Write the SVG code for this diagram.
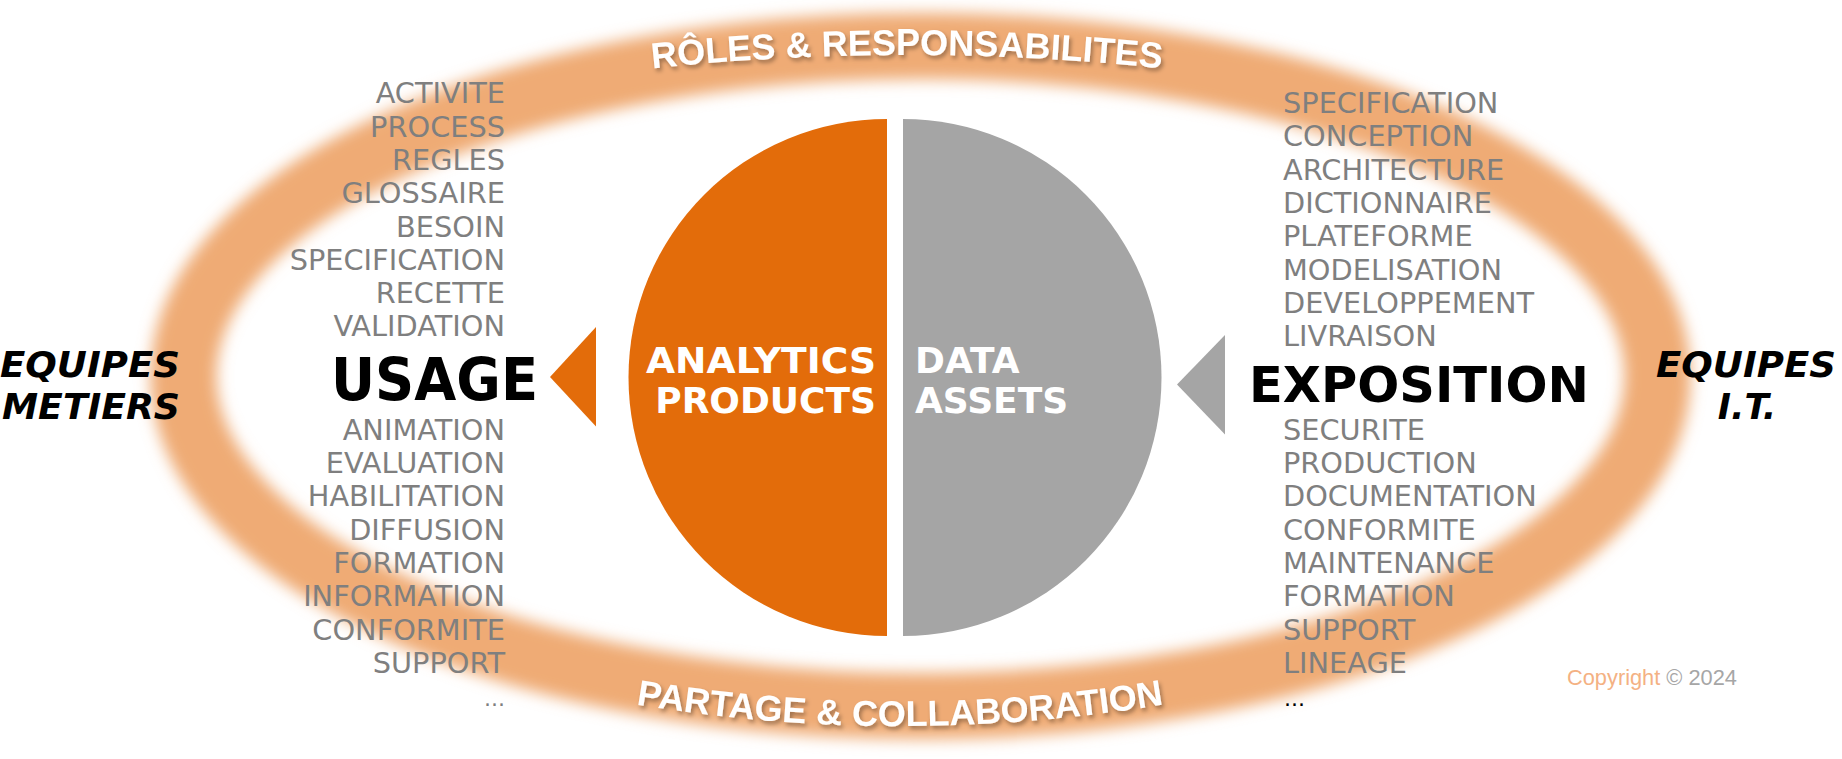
<svg xmlns="http://www.w3.org/2000/svg" width="1842" height="759" viewBox="0 0 1842 759">
  <defs>
    <filter id="soft" x="-5%" y="-12%" width="110%" height="124%">
      <feGaussianBlur stdDeviation="7.5"/>
    </filter>
    <filter id="shadow" x="-10%" y="-30%" width="120%" height="160%">
      <feDropShadow dx="2" dy="3" stdDeviation="2" flood-color="#000" flood-opacity="0.35"/>
    </filter>
    <path id="topArc" d="M 507 88.4 A 2410 2410 0 0 1 1307 88.4"/>
    <path id="botArc" d="M 500 675.9 A 1620 1620 0 0 0 1300 675.9"/>
    <style>
      .lst { font-family: "DejaVu Sans", Verdana, sans-serif; font-size: 28.8px; fill: #7F7F7F; }
      .big { font-family: "DejaVu Sans", Verdana, sans-serif; font-weight: bold; fill: #000; }
      .team { font-family: "DejaVu Sans", Verdana, sans-serif; font-weight: bold; font-style: italic; font-size: 35.5px; fill: #000; text-anchor: middle; }
      .inner { font-family: "DejaVu Sans", Verdana, sans-serif; font-weight: bold; font-size: 36px; fill: #FFFFFF; }
      .ring { font-family: "Liberation Sans", Arial, sans-serif; font-weight: bold; font-size: 36px; fill: #FFFFFF; }
      .r { text-anchor: end; }
    </style>
  </defs>
  <rect width="1842" height="759" fill="#FFFFFF"/>

  <g id="ring">
    <ellipse cx="920.5" cy="376" rx="737" ry="330" fill="none" stroke="#EFAB74" stroke-width="66" filter="url(#soft)"/>
  </g>

  <g id="ring-labels" filter="url(#shadow)">
    <text class="ring"><textPath href="#topArc" startOffset="50%" text-anchor="middle">RÔLES &amp; RESPONSABILITES</textPath></text>
    <text class="ring"><textPath href="#botArc" startOffset="50%" text-anchor="middle">PARTAGE &amp; COLLABORATION</textPath></text>
  </g>

  <g id="analytics-products">
    <path d="M 887 119 A 258.5 258.5 0 0 0 887 636 Z" fill="#E36C0A"/>
    <text class="inner r" x="876" y="373.3" textLength="230" lengthAdjust="spacingAndGlyphs">ANALYTICS</text>
    <text class="inner r" x="876" y="412.7">PRODUCTS</text>
  </g>

  <g id="data-assets">
    <path d="M 903 119 A 258.5 258.5 0 0 1 903 636 Z" fill="#A5A5A5"/>
    <text class="inner" x="915" y="373.3">DATA</text>
    <text class="inner" x="915" y="412.7">ASSETS</text>
  </g>

  <g id="connectors">
    <polygon points="596,327 596,426.5 550,377" fill="#E36C0A"/>
    <polygon points="1225,335 1225,434.5 1177,384.5" fill="#A5A5A5"/>
  </g>

  <g id="usage">
    <text class="big r" x="538" y="400" font-size="58" textLength="207" lengthAdjust="spacingAndGlyphs">USAGE</text>
    <g class="lst r">
      <text x="505" y="103.3">ACTIVITE</text>
      <text x="505" y="136.6">PROCESS</text>
      <text x="505" y="169.9">REGLES</text>
      <text x="505" y="203.2">GLOSSAIRE</text>
      <text x="505" y="236.5">BESOIN</text>
      <text x="505" y="269.8">SPECIFICATION</text>
      <text x="505" y="303.1">RECETTE</text>
      <text x="505" y="336.4">VALIDATION</text>
      <text x="505" y="439.7">ANIMATION</text>
      <text x="505" y="473">EVALUATION</text>
      <text x="505" y="506.3">HABILITATION</text>
      <text x="505" y="539.6">DIFFUSION</text>
      <text x="505" y="572.9">FORMATION</text>
      <text x="505" y="606.2">INFORMATION</text>
      <text x="505" y="639.5">CONFORMITE</text>
      <text x="505" y="672.8">SUPPORT</text>
      <text x="505" y="706" font-size="22">...</text>
    </g>
  </g>

  <g id="exposition">
    <text class="big" x="1249" y="401.7" font-size="49" textLength="340" lengthAdjust="spacingAndGlyphs">EXPOSITION</text>
    <g class="lst">
      <text x="1283" y="113">SPECIFICATION</text>
      <text x="1283" y="146.3">CONCEPTION</text>
      <text x="1283" y="179.6">ARCHITECTURE</text>
      <text x="1283" y="212.9">DICTIONNAIRE</text>
      <text x="1283" y="246.2">PLATEFORME</text>
      <text x="1283" y="279.5">MODELISATION</text>
      <text x="1283" y="312.8">DEVELOPPEMENT</text>
      <text x="1283" y="346.1">LIVRAISON</text>
      <text x="1283" y="439.7">SECURITE</text>
      <text x="1283" y="473">PRODUCTION</text>
      <text x="1283" y="506.3">DOCUMENTATION</text>
      <text x="1283" y="539.6">CONFORMITE</text>
      <text x="1283" y="572.9">MAINTENANCE</text>
      <text x="1283" y="606.2">FORMATION</text>
      <text x="1283" y="639.5">SUPPORT</text>
      <text x="1283" y="672.8">LINEAGE</text>
      <text x="1284" y="706" font-size="22" fill="#000">...</text>
    </g>
  </g>

  <g id="equipes-metiers">
    <text class="team" x="90" y="376.7" textLength="180" lengthAdjust="spacingAndGlyphs">EQUIPES</text>
    <text class="team" x="91" y="419.3" textLength="178" lengthAdjust="spacingAndGlyphs">METIERS</text>
  </g>

  <g id="equipes-it">
    <text class="team" x="1746" y="376.7" textLength="180" lengthAdjust="spacingAndGlyphs">EQUIPES</text>
    <text class="team" x="1747" y="418.5">I.T.</text>
  </g>

  <g id="copyright">
    <text x="1567" y="685" font-family="'Liberation Sans', Arial, sans-serif" font-size="21.8" fill="#F4B183">Copyright <tspan fill="#A6A6A6">© 2024</tspan></text>
  </g>
</svg>
